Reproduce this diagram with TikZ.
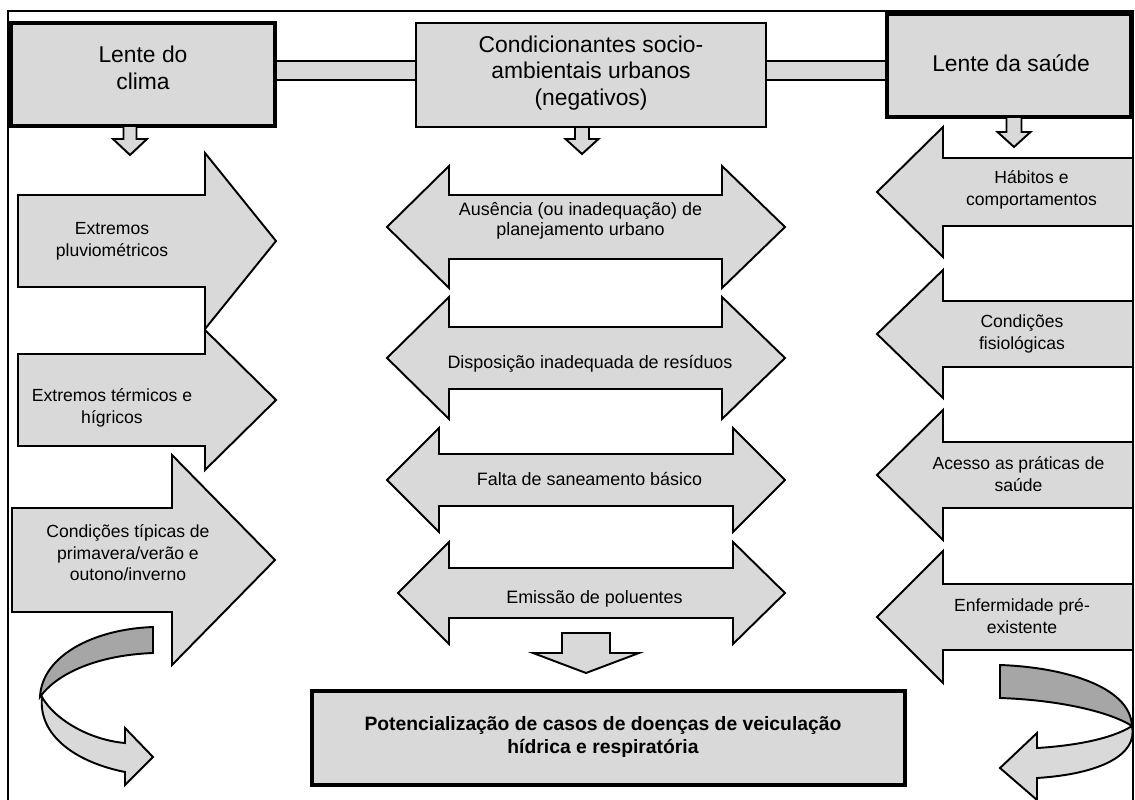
\documentclass[tikz,border=0pt]{standalone}
\usepackage{fontspec}
\setmainfont{Liberation Sans}

\definecolor{boxgray}{HTML}{D9D9D9}
\definecolor{foldgray}{HTML}{A6A6A6}

% block arrow: far end, head base, tip, centre, shaft half, head half
\newcommand{\blockarrow}[6]{%
  \draw[block] (#1,#4-#5) -- (#2,#4-#5) -- (#2,#4-#6) -- (#3,#4)
    -- (#2,#4+#6) -- (#2,#4+#5) -- (#1,#4+#5) -- cycle;}
% two-way arrow: left tip, left base, right base, right tip, centre, shaft half, head half
\newcommand{\twowayarrow}[7]{%
  \draw[block] (#1,#5) -- (#2,#5-#7) -- (#2,#5-#6) -- (#3,#5-#6) -- (#3,#5-#7) -- (#4,#5)
    -- (#3,#5+#7) -- (#3,#5+#6) -- (#2,#5+#6) -- (#2,#5+#7) -- cycle;}
% down arrow: centre x, top, head top, tip, shaft half, head half
\newcommand{\downblock}[6]{%
  \draw[block] (#1-#5,#2) -- (#1+#5,#2) -- (#1+#5,#3) -- (#1+#6,#3) -- (#1,#4)
    -- (#1-#6,#3) -- (#1-#5,#3) -- cycle;}

\begin{document}
\begin{tikzpicture}[x=0.02cm,y=-0.02cm,
  lens/.style={draw,line width=2pt,fill=boxgray,inner sep=0pt},
  lens text/.style={align=center,font=\fontsize{13}{15.3}\selectfont},
  block/.style={draw,line width=1.1pt,fill=boxgray,line join=miter},
  side text/.style={align=center,font=\fontsize{10}{12.3}\selectfont},
  mid text/.style={align=center,font=\fontsize{10.2}{11.5}\selectfont}]

  \useasboundingbox (0,0) rectangle (1135,800);
  \draw[line width=1pt] (8,800) -- (8,11) -- (1133,11) -- (1133,800);

  % top boxes
  \node[lens,minimum width=5.28cm,minimum height=2.06cm] (clima) at (143,74.5) {};
  \node[lens,line width=1.5pt,minimum width=7cm,minimum height=2.08cm] (cond) at (591,75) {};
  \node[lens,minimum width=4.88cm,minimum height=2.06cm] (saude) at (1009,65.5) {};

  \fill[boxgray] (clima.east |- 0,61) rectangle (cond.west |- 0,80);
  \draw[line width=1.1pt] (clima.east |- 0,61) -- (cond.west |- 0,61)
    (clima.east |- 0,80) -- (cond.west |- 0,80);
  \fill[boxgray] (cond.east |- 0,61) rectangle (saude.west |- 0,80);
  \draw[line width=1.1pt] (cond.east |- 0,61) -- (saude.west |- 0,61)
    (cond.east |- 0,80) -- (saude.west |- 0,80);

  \node[lens text] (climaTxt) at (143,67.5) {Lente do\\clima};
  \node[lens text] (condTxt) at (591,73) {Condicionantes socio-\\ambientais urbanos\\(negativos)};
  \node[lens text] (saudeTxt) at (1011,63) {Lente da saúde};

  \downblock{130}{126}{139}{155}{6.5}{17}
  \downblock{582}{127}{139}{154}{7}{16.5}
  \downblock{1014}{117}{132}{147}{7.5}{16.5}

  % climate side
  \blockarrow{18}{205}{276}{241}{46}{88}
  \blockarrow{18}{205}{276}{400}{46}{70}
  \blockarrow{12}{172}{275}{560}{52}{105}
  \node[side text] (pluvio) at (112,241) {Extremos\\pluviométricos};
  \node[side text] (termico) at (112,408) {Extremos térmicos e\\hígricos};
  \node[side text] (estacoes) at (128,553) {Condições típicas de\\primavera/verão e\\outono/inverno};

  % health side
  \blockarrow{1133}{943}{877}{192}{34}{65}
  \blockarrow{1133}{943}{877}{334}{33}{64}
  \blockarrow{1133}{943}{877}{475}{33}{65}
  \blockarrow{1133}{943}{877}{617}{33}{66}
  \node[side text] (habitos) at (1031.5,190) {Hábitos e\\comportamentos};
  \node[side text] (fisio) at (1022,334) {Condições\\fisiológicas};
  \node[side text] (acesso) at (1018.5,474) {Acesso as práticas de\\saúde};
  \node[side text] (enfermidade) at (1022,616) {Enfermidade pré-\\existente};

  % urban factors
  \twowayarrow{387}{449}{722}{785}{227}{32}{61}
  \twowayarrow{387}{449}{722}{785}{358}{31}{61}
  \twowayarrow{387}{439}{733}{785}{480}{26}{52}
  \twowayarrow{398}{449}{733}{785}{593}{25}{51}
  \node[mid text] (planejamento) at (580.5,221) {Ausência (ou inadequação) de\\planejamento urbano};
  \node[mid text] (residuos) at (590,364) {Disposição inadequada de resíduos};
  \node[mid text] (saneamento) at (589.5,479) {Falta de saneamento básico};
  \node[mid text] (poluentes) at (594.5,599) {Emissão de poluentes};

  % result
  \downblock{586}{633}{653}{673}{24}{53}
  \node[lens,minimum width=11.86cm,minimum height=1.88cm] (result) at (608.5,738) {};
  \node[align=center,font=\bfseries\fontsize{11}{13}\selectfont] (doencas) at (603,737)
    {Potencialização de casos de doenças de veiculação\\hídrica e respiratória};

  % curved arrows
  \draw[block,fill=foldgray] (153,627) .. controls (95,629) and (42,655) .. (40,697)
    .. controls (58,672) and (100,655) .. (153,653) -- cycle;
  \draw[block] (42,697) .. controls (55,720) and (90,740) .. (125,743) -- (125,728)
    -- (153,757) -- (125,785) -- (125,772) .. controls (75,762) and (38,735) .. (42,697) -- cycle;
  \draw[block,fill=foldgray] (1000,665) .. controls (1060,667) and (1130,685) .. (1132,726)
    .. controls (1110,712) and (1060,700) .. (1000,698) -- cycle;
  \draw[block] (1132,726) .. controls (1110,740) and (1070,746) .. (1037,748) -- (1037,733)
    -- (1000,768) -- (1037,800) -- (1037,778) .. controls (1100,774) and (1138,755) .. (1132,726) -- cycle;
\end{tikzpicture}
\end{document}
